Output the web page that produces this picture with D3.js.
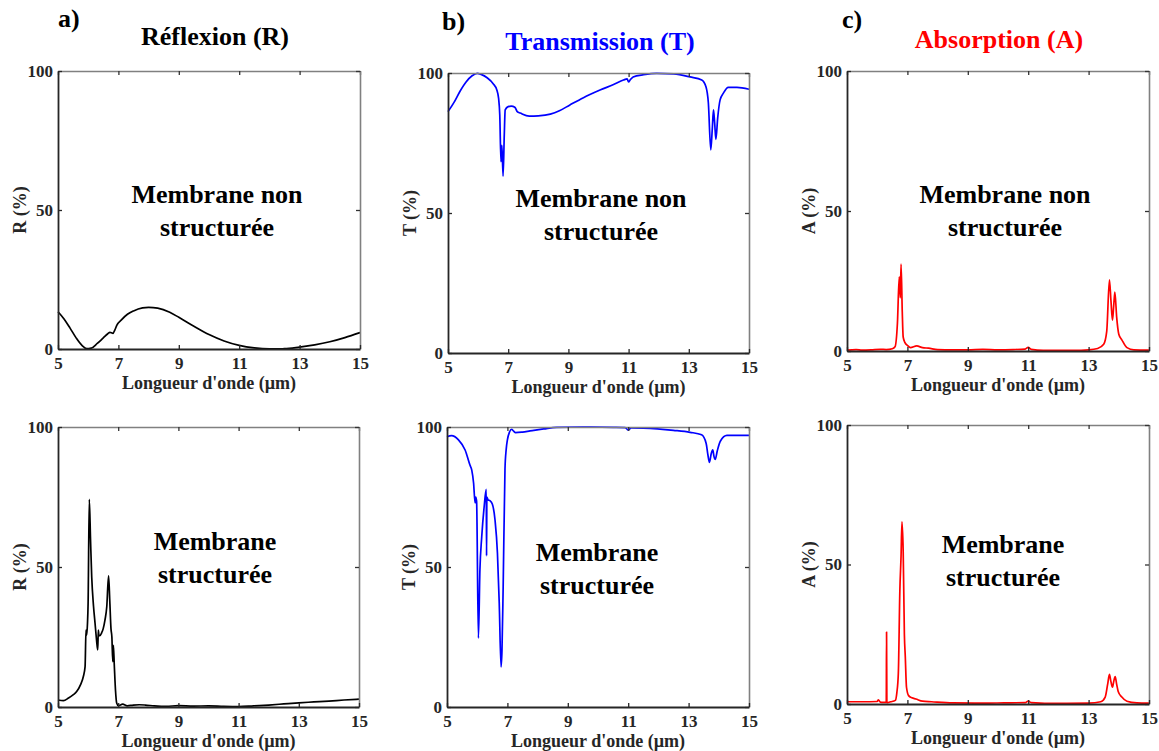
<!DOCTYPE html>
<html>
<head>
<meta charset="utf-8">
<script src="https://cdn.jsdelivr.net/npm/d3@7"></script>
<style>
  html, body { margin: 0; padding: 0; background: #fff; }
  svg { display: block; font-family: "Liberation Serif", "Times New Roman", serif; }
</style>
</head>
<body>
<svg id="chart" width="1159" height="751"></svg>
<script>
// ---------------- DATA ----------------
const xTicks = [5, 7, 9, 11, 13, 15];
const yTicks = [0, 50, 100];
const xLabel = "Longueur d'onde (µm)";

// a) Réflexion, membrane non structurée
const wlRefNon = [5.0, 5.2, 5.4, 5.6, 5.8, 5.95, 6.1, 6.3, 6.5, 6.65, 6.72, 6.78, 6.82, 6.88, 6.95, 7.1, 7.3, 7.5, 7.8, 8.0, 8.3, 8.7, 9.0, 9.5, 10.0, 10.5, 11.0, 11.5, 12.0, 12.5, 13.0, 13.5, 14.0, 14.5, 15.0];
const refNon   = [13.4, 10.8, 7.5, 4.0, 1.2, 0.1, 0.3, 2.0, 4.0, 5.5, 6.0, 5.8, 5.6, 6.8, 8.6, 10.5, 12.5, 13.7, 14.8, 15.0, 14.7, 13.2, 11.4, 8.2, 5.2, 2.9, 1.3, 0.4, 0.05, 0.1, 0.7, 1.5, 2.6, 4.1, 5.9];

// b) Transmission, membrane non structurée
const wlTransNon = [5.0, 5.2, 5.4, 5.6, 5.8, 5.97, 6.1, 6.3, 6.5, 6.62, 6.68, 6.72, 6.76, 6.79, 6.83, 6.87, 6.9, 7.0, 7.1, 7.22, 7.3, 7.4, 7.7, 8.0, 8.4, 8.7, 9.05, 9.5, 10.05, 10.5, 10.83, 10.95, 11.0, 11.05, 11.15, 11.5, 11.93, 12.5, 13.04, 13.43, 13.57, 13.65, 13.73, 13.78, 13.82, 13.86, 13.9, 13.96, 14.04, 14.15, 14.31, 14.6, 15.0];
const transNon   = [86.2, 89.5, 93.5, 96.8, 99.0, 99.9, 99.5, 98.3, 96.2, 94.0, 91.0, 85.0, 68.3, 74.2, 63.2, 78.0, 86.8, 88.0, 88.2, 87.8, 86.2, 85.7, 84.6, 84.7, 85.3, 86.5, 88.6, 91.2, 93.9, 95.9, 97.5, 97.9, 96.8, 97.5, 98.6, 99.4, 99.9, 99.7, 98.6, 97.5, 95.1, 89.3, 72.5, 80.0, 86.8, 82.0, 76.3, 84.0, 90.4, 92.8, 94.9, 94.9, 94.2];

// c) Absorption, membrane non structurée
const wlAbsNon = [5.0, 5.3, 5.5, 5.8, 6.1, 6.3, 6.5, 6.59, 6.67, 6.73, 6.765, 6.79, 6.83, 6.86, 6.92, 7.0, 7.1, 7.31, 7.5, 7.7, 8.0, 8.5, 9.0, 9.5, 10.0, 10.5, 10.9, 11.0, 11.1, 11.5, 12.0, 12.5, 13.0, 13.3, 13.5, 13.6, 13.69, 13.74, 13.79, 13.83, 13.87, 13.93, 14.0, 14.1, 14.27, 14.5, 15.0];
const absNon   = [0.3, 0.5, 0.3, 0.4, 0.6, 0.5, 0.8, 1.5, 10.0, 26.5, 19.0, 31.0, 14.0, 5.0, 3.0, 2.0, 1.2, 1.8, 1.2, 1.0, 0.5, 0.4, 0.4, 0.6, 0.4, 0.5, 0.7, 1.3, 0.6, 0.2, 0.2, 0.2, 0.4, 0.9, 2.4, 7.0, 25.4, 18.0, 11.0, 16.0, 21.0, 12.0, 6.0, 4.0, 1.2, 0.4, 0.3];

// a) Réflexion, membrane structurée
const wlRefStr = [5.0, 5.18, 5.35, 5.5, 5.62, 5.75, 5.84, 5.9, 5.93, 5.95, 5.98, 6.0, 6.04, 6.08, 6.12, 6.18, 6.23, 6.28, 6.32, 6.34, 6.36, 6.39, 6.45, 6.5, 6.56, 6.62, 6.68, 6.72, 6.76, 6.79, 6.82, 6.84, 6.87, 6.91, 6.95, 7.0, 7.15, 7.3, 7.5, 7.7, 7.9, 8.2, 8.6, 9.0, 9.5, 10.0, 10.5, 11.0, 11.5, 12.0, 12.5, 13.0, 13.5, 14.0, 14.5, 15.0];
const refStr   = [2.5, 2.3, 3.2, 4.3, 5.5, 8.0, 10.8, 14.4, 27.5, 25.6, 30.0, 37.0, 74.2, 60.0, 46.5, 36.0, 30.0, 24.0, 20.4, 27.5, 25.5, 25.5, 26.5, 27.9, 31.0, 35.8, 46.8, 38.0, 28.0, 25.0, 16.2, 22.0, 15.0, 6.0, 1.4, 0.5, 1.0, 0.4, 0.7, 0.8, 0.7, 0.4, 0.2, 0.5, 0.3, 0.4, 0.2, 0.1, 0.4, 0.7, 1.1, 1.5, 1.8, 2.1, 2.5, 2.8];

// b) Transmission, membrane structurée
const wlTransStr = [5.0, 5.15, 5.38, 5.6, 5.76, 5.82, 5.88, 5.93, 5.95, 5.98, 6.04, 6.09, 6.15, 6.23, 6.30, 6.31, 6.32, 6.36, 6.42, 6.5, 6.59, 6.67, 6.73, 6.79, 6.82, 6.86, 6.92, 6.96, 7.0, 7.07, 7.14, 7.2, 7.27, 7.5, 7.75, 8.2, 8.63, 9.5, 10.5, 10.9, 11.0, 11.1, 11.5, 12.5, 13.05, 13.43, 13.58, 13.64, 13.69, 13.75, 13.8, 13.84, 13.88, 13.95, 14.05, 14.27, 14.6, 15.0];
const transStr   = [96.5, 96.9, 95.4, 91.8, 86.4, 84.6, 80.0, 72.9, 75.0, 73.5, 24.6, 49.0, 60.8, 71.5, 77.7, 54.0, 75.0, 74.0, 73.7, 72.5, 66.8, 55.0, 37.0, 14.3, 20.0, 43.0, 85.0, 92.0, 95.4, 98.2, 99.2, 98.6, 98.0, 98.2, 98.6, 99.3, 99.9, 100, 99.9, 99.8, 98.9, 99.7, 99.6, 98.8, 98.1, 97.2, 94.2, 90.0, 87.4, 90.5, 91.8, 89.5, 88.4, 91.5, 94.9, 97.0, 97.0, 97.0];

// c) Absorption, membrane structurée
const wlAbsStr = [5.0, 5.5, 6.0, 6.04, 6.1, 6.2, 6.3, 6.31, 6.32, 6.33, 6.45, 6.6, 6.65, 6.7, 6.75, 6.79, 6.82, 6.86, 6.9, 6.93, 6.97, 7.04, 7.15, 7.28, 7.5, 7.8, 8.5, 9.5, 10.2, 10.9, 11.0, 11.1, 12.0, 13.0, 13.4, 13.55, 13.63, 13.69, 13.74, 13.79, 13.83, 13.88, 13.93, 13.98, 14.1, 14.27, 14.6, 15.0];
const absStr   = [0.8, 0.8, 0.9, 1.5, 0.7, 0.6, 0.6, 25.8, 0.6, 0.5, 0.8, 1.3, 4.0, 11.0, 40.6, 53.0, 65.3, 55.0, 25.0, 17.0, 6.0, 3.0, 2.2, 1.8, 1.0, 0.8, 0.4, 0.3, 0.4, 0.5, 1.0, 0.5, 0.2, 0.3, 0.8, 2.5, 7.0, 10.6, 8.0, 6.0, 8.0, 9.8, 7.0, 4.5, 2.5, 1.0, 0.4, 0.3];

const titles = ["Réflexion (R)", "Transmission (T)", "Absorption (A)"];
const letters = ["a)", "b)", "c)"];
const yLabels = ["R (%)", "T (%)", "A (%)"];
const notes = [["Membrane non", "structurée"], ["Membrane", "structurée"]];

// ---------------- LAYOUT ----------------
const colors = ["#000000", "#0000ff", "#ff0000"];
const panels = [
  {row:0, col:0, x0:58,  x1:360,  y0:71,  y1:349, wl:wlRefNon,   v:refNon,   nx:217,  ny:203},
  {row:0, col:1, x0:448, x1:749,  y0:73,  y1:353, wl:wlTransNon, v:transNon, nx:601,  ny:207},
  {row:0, col:2, x0:847, x1:1149, y0:71,  y1:351, wl:wlAbsNon,   v:absNon,   nx:1005, ny:203},
  {row:1, col:0, x0:58,  x1:359,  y0:427, y1:707, wl:wlRefStr,   v:refStr,   nx:215,  ny:550},
  {row:1, col:1, x0:447, x1:749,  y0:427, y1:707, wl:wlTransStr, v:transStr, nx:597,  ny:561},
  {row:1, col:2, x0:847, x1:1149, y0:425, y1:704, wl:wlAbsStr,   v:absStr,   nx:1003, ny:553}
];
const headers = [
  {lx:58,  ly:27, tx:215, ty:45},
  {lx:442, ly:30, tx:600, ty:50},
  {lx:842, ly:28, tx:999, ty:48}
];

const svg = d3.select("#chart");

headers.forEach((h, i) => {
  svg.append("text").attr("x", h.lx).attr("y", h.ly)
    .attr("font-size", 26).attr("font-weight", "bold").attr("fill", "#000")
    .text(letters[i]);
  svg.append("text").attr("x", h.tx).attr("y", h.ty)
    .attr("text-anchor", "middle")
    .attr("font-size", 26).attr("font-weight", "bold").attr("fill", colors[i])
    .text(titles[i]);
});

panels.forEach(p => {
  const x = d3.scaleLinear().domain([5, 15]).range([p.x0, p.x1]);
  const y = d3.scaleLinear().domain([0, 100]).range([p.y1, p.y0]);
  const g = svg.append("g");

  // curve
  const n = Math.min(p.wl.length, p.v.length);
  const pts = d3.range(n).map(i => [p.wl[i], p.v[i]]);
  g.append("path").datum(pts)
    .attr("fill", "none")
    .attr("stroke", colors[p.col])
    .attr("stroke-width", 1.7)
    .attr("stroke-linejoin", "round")
    .attr("d", d3.line().x(d => x(d[0])).y(d => y(d[1])).curve(d3.curveMonotoneX));

  // secondary axes (top/right) - lighter, no labels
  const top = g.append("g").attr("transform", `translate(0,${p.y0})`)
    .call(d3.axisTop(x).tickValues(xTicks).tickSizeInner(-4).tickSizeOuter(0).tickFormat(""));
  const right = g.append("g").attr("transform", `translate(${p.x1},0)`)
    .call(d3.axisRight(y).tickValues(yTicks).tickSizeInner(-4).tickSizeOuter(0).tickFormat(""));
  [top, right].forEach(a => {
    a.select(".domain").attr("stroke", "#808080").attr("stroke-width", 1.6);
    a.selectAll(".tick line").attr("stroke", "#333").attr("stroke-width", 1.3);
  });

  // main axes
  const bottom = g.append("g").attr("transform", `translate(0,${p.y1})`)
    .call(d3.axisBottom(x).tickValues(xTicks).tickSizeInner(-4).tickSizeOuter(0).tickPadding(9));
  const left = g.append("g").attr("transform", `translate(${p.x0},0)`)
    .call(d3.axisLeft(y).tickValues(yTicks).tickSizeInner(-4).tickSizeOuter(0).tickPadding(9));
  [bottom, left].forEach(a => {
    a.select(".domain").attr("stroke", "#262626").attr("stroke-width", 1.8);
    a.selectAll(".tick line").attr("stroke", "#262626").attr("stroke-width", 1.3);
    a.selectAll(".tick text")
      .attr("font-family", "'Liberation Serif', 'Times New Roman', serif")
      .attr("font-size", 17).attr("font-weight", "bold").attr("fill", "#262626");
  });
  left.selectAll(".tick text").attr("x", -5);
  bottom.selectAll(".tick text").attr("y", 8);

  // x label
  g.append("text")
    .attr("x", (p.x0 + p.x1) / 2).attr("y", p.y1 + 40)
    .attr("text-anchor", "middle")
    .attr("font-size", 18).attr("font-weight", "bold").attr("fill", "#262626")
    .text(xLabel);

  // y label
  g.append("text")
    .attr("transform", `translate(${p.x0 - 38},${(p.y0 + p.y1) / 2}) rotate(-90)`)
    .attr("text-anchor", "middle").attr("dy", "0.35em")
    .attr("font-size", 18).attr("font-weight", "bold").attr("fill", "#262626")
    .text(yLabels[p.col]);

  // annotation
  const lines = notes[p.row];
  lines.forEach((t, k) => {
    g.append("text")
      .attr("x", p.nx).attr("y", p.ny + k * 33)
      .attr("text-anchor", "middle")
      .attr("font-size", 26).attr("font-weight", "bold").attr("fill", "#000")
      .text(t);
  });
});
</script>
</body>
</html>
